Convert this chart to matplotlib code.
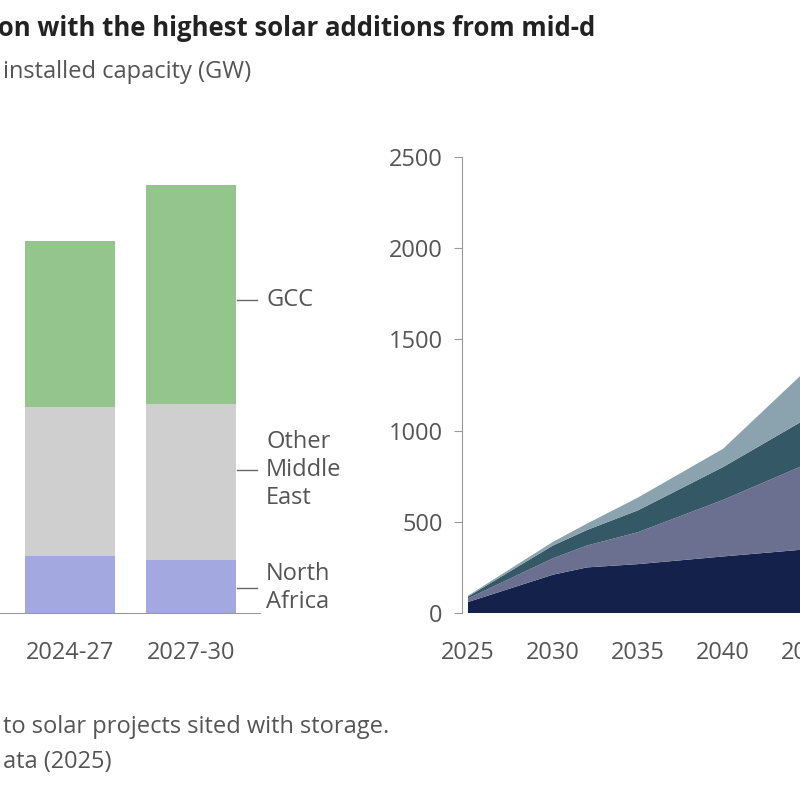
import matplotlib
matplotlib.use("Agg")
import matplotlib.pyplot as plt
import numpy as np

plt.rcParams['font.family'] = ['Open Sans', 'DejaVu Sans']

periods = ["2021-24", "2024-27", "2027-30"]
north_africa = [10.0, 12.5, 11.6]
other_me = [20.0, 32.7, 34.2]
gcc = [15.0, 36.4, 48.0]

years = [2025, 2030, 2032, 2035, 2040, 2045, 2050]
layer1 = [60, 210, 250, 268, 310, 350, 380]
layer2 = [20, 90, 120, 175, 310, 470, 600]
layer3 = [10, 70, 85, 120, 180, 250, 320]
layer4 = [5, 20, 35, 70, 100, 270, 350]

W = H = 800
fig = plt.figure(figsize=(8, 8), dpi=100)

def ax_at(x0, y0, x1, y1):
    return fig.add_axes([x0 / W, 1 - y1 / H, (x1 - x0) / W, (y1 - y0) / H])

grey = "#555555"
fig.text(-0.012, 1 - 28 / H, "ion with the highest solar additions from mid-d",
         fontsize=18.5, fontweight="bold", color="#222222", va="center", ha="left")
fig.text(0.004, 1 - 72 / H, "installed capacity (GW)", fontsize=17, color=grey, va="center")

# left bars
axl = ax_at(-120, 157, 260, 613)
x = np.arange(len(periods))
b1 = np.array(north_africa); b2 = np.array(other_me); b3 = np.array(gcc)
axl.bar(x, b1, width=0.744, color="#a3a8e0")
axl.bar(x, b2, bottom=b1, width=0.744, color="#cfcfcf")
axl.bar(x, b3, bottom=b1 + b2, width=0.744, color="#94c58c")
axl.set_xlim(-0.57, 2.57)
axl.set_ylim(0, 100)
axl.set_yticks([])
for s in ["top", "right", "left"]:
    axl.spines[s].set_visible(False)
axl.spines["bottom"].set_color("#999999")
axl.set_xticks(x)
axl.set_xticklabels(periods, fontsize=17, color=grey)
axl.tick_params(axis="x", length=0, pad=20)

for ypx, lab in [(300, "GCC"), (470, "Other\nMiddle\nEast"), (588, "North\nAfrica")]:
    fig.add_artist(plt.Line2D([237 / W, 257 / W], [1 - ypx / H] * 2, color="#666666", lw=1))
    fig.text(266 / W, 1 - ypx / H, lab, fontsize=17, color=grey, va="center", linespacing=1.25)

# right area chart
axr = ax_at(462, 157, 893, 613)
axr.stackplot(years, layer1, layer2, layer3, layer4,
              colors=["#14214a", "#6b7090", "#355866", "#8aa3ae"], lw=0)
axr.set_xlim(2024.65, 2050)
axr.set_ylim(0, 2500)
axr.set_yticks([0, 500, 1000, 1500, 2000, 2500])
axr.set_xticks([2025, 2030, 2035, 2040, 2045, 2050])
axr.tick_params(labelsize=17, colors=grey, color="#999999")
axr.tick_params(axis="y", length=6, pad=8)
axr.tick_params(axis="x", length=0, pad=20)
for s in ["top", "right"]:
    axr.spines[s].set_visible(False)
axr.spines["left"].set_color("#999999")
axr.spines["bottom"].set_visible(False)

fig.text(0.004, 1 - 727 / H, "to solar projects sited with storage.", fontsize=17, color=grey, va="center")
fig.text(0.004, 1 - 762 / H, "ata (2025)", fontsize=17, color=grey, va="center")

fig.savefig("out.png", dpi=100)
